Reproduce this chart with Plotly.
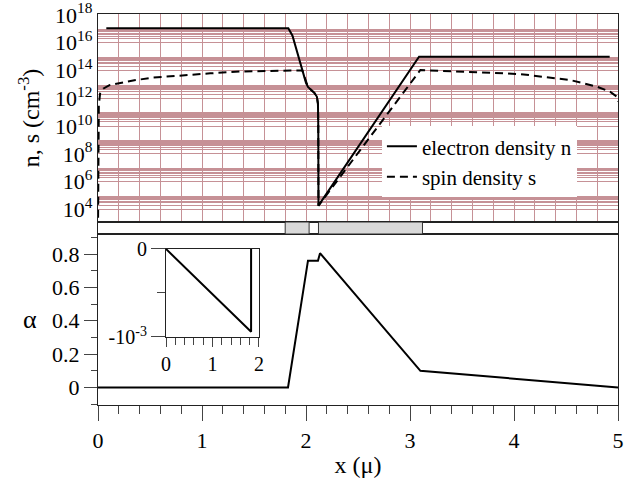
import plotly.graph_objects as go

# ---------------- data ----------------
# electron density n (cm^-3)
n_x = [0.08, 1.83, 1.87, 1.933, 1.97, 2.0, 2.019, 2.05, 2.08, 2.105, 2.115, 2.118, 2.12, 3.087, 4.92]
n_y = [1.1e17, 1.1e17, 3.2e16, 5.8e14, 6.3e13, 1.3e13, 6.6e12, 4.0e12, 2.5e12, 1.3e12, 4.0e11, 1.0e10, 1.9e4, 1.0e15, 1.0e15]

# spin density s (cm^-3)
s_x = [0.0, 0.003, 0.008, 0.02, 0.05, 0.11, 0.21, 0.35, 0.53, 0.8, 1.08, 1.37, 1.6, 1.85, 1.965,
       2.0, 2.019, 2.05, 2.08, 2.105, 2.115, 2.118, 2.12,
       3.1, 3.577, 4.058, 4.538, 4.798, 4.923, 4.99, 5.0]
s_y = [3e2, 1e9, 3.2e11, 2.2e12, 5.0e12, 8.9e12, 1.26e13, 2.0e13, 3.1e13, 4.6e13, 6.3e13, 8.5e13, 9.5e13, 1.0e14, 1.0e14,
       1.3e13, 6.6e12, 4.0e12, 2.5e12, 1.3e12, 4.0e11, 1.0e10, 1.9e4,
       1.1e14, 8.3e13, 5.6e13, 2.1e13, 6.9e12, 3.0e12, 1.3e12, 6.0e11]

# alpha (bottom panel)
a_x = [0.0, 1.827, 2.019, 2.115, 2.135, 3.10, 5.0]
a_y = [0.0, 0.0, 0.76, 0.76, 0.805, 0.10, 0.0]

# inset
i_x = [0.0, 1.83, 1.83]
i_y = [0.0, -0.00094, 0.0]

# shaded regions in the strip
region_start = [1.80, 2.12]
region_end = [2.03, 3.12]

# tick labels
top_tick_exps = [4, 6, 8, 10, 12, 14, 16, 18]

# ---------------- figure ----------------
FONT = "Liberation Serif, Times New Roman, Times, serif"
GRID = "rgb(198,145,150)"
fig = go.Figure()

fig.add_trace(go.Scatter(x=n_x, y=n_y, mode="lines", name="electron density n",
                         line=dict(color="black", width=2), xaxis="x2", yaxis="y2"))
fig.add_trace(go.Scatter(x=s_x, y=s_y, mode="lines", name="spin density s",
                         line=dict(color="black", width=2, dash="8px,5px"), xaxis="x2", yaxis="y2"))

for a, b in zip(region_start, region_end):
    fig.add_trace(go.Scatter(x=[a, b, b, a, a], y=[0, 0, 1, 1, 0], mode="lines", fill="toself",
                             fillcolor="#d9d9d9", line=dict(color="#333", width=1),
                             showlegend=False, xaxis="x3", yaxis="y3", hoverinfo="skip"))

fig.add_trace(go.Scatter(x=a_x, y=a_y, mode="lines", line=dict(color="black", width=2),
                         showlegend=False, xaxis="x", yaxis="y"))
fig.add_trace(go.Scatter(x=i_x, y=i_y, mode="lines", line=dict(color="black", width=2),
                         showlegend=False, xaxis="x4", yaxis="y4"))

minor_vals = [k * 10.0 ** e for e in range(4, 17, 2) for k in range(2, 10)]

axis_common = dict(showline=True, linecolor="#222", linewidth=1.2, mirror=True, automargin=False,
                   ticklabeloverflow="allow",
                   zeroline=False, tickfont=dict(family=FONT, size=22, color="black"))
inset_common = {**axis_common, "tickfont": dict(family=FONT, size=20, color="black")}

fig.update_layout(
    width=641, height=479,
    margin=dict(l=98, r=23, t=14, b=74),
    paper_bgcolor="white", plot_bgcolor="white",
    font=dict(family=FONT, color="black"),
    legend=dict(x=0.546, y=0.713, xanchor="left", yanchor="top", bgcolor="white",
                font=dict(family=FONT, size=21, color="black"), itemwidth=30,
                tracegroupgap=0),
    xaxis=dict(**axis_common, domain=[0, 1], range=[0, 5], anchor="y",
               tickvals=[0, 1, 2, 3, 4, 5], ticks="outside", ticklen=15, tickwidth=1.2,
               minor=dict(dtick=0.2, tick0=0, ticks="outside", ticklen=8, tickwidth=1.2, showgrid=False),
               showgrid=False,
               title=dict(text="x (μ)", font=dict(family=FONT, size=24), standoff=4)),
    yaxis=dict(**axis_common, domain=[0, 0.4373], range=[-0.105, 0.92], anchor="x",
               tickvals=[0, 0.2, 0.4, 0.6, 0.8], ticktext=["0", "0.2", "0.4", "0.6", "0.8"],
               ticks="outside", ticklen=13, tickwidth=1.2,
               minor=dict(dtick=0.2, tick0=0.1, ticks="outside", ticklen=6, tickwidth=1.2, showgrid=False),
               showgrid=False),
    xaxis2=dict(**axis_common, domain=[0, 1], range=[0, 5], anchor="y2", matches="x",
                showticklabels=False, ticks="", dtick=1,
                showgrid=True, gridcolor=GRID, gridwidth=1,
                minor=dict(dtick=0.2, tick0=0, showgrid=True, gridcolor=GRID, gridwidth=1)),
    yaxis2=dict(**axis_common, domain=[0.468, 1], type="log", range=[3.1, 18.07], anchor="x2",
                tickvals=[10.0 ** e for e in top_tick_exps],
                ticktext=["10<sup>%d</sup>" % e for e in top_tick_exps],
                ticks="", showgrid=True, gridcolor=GRID, gridwidth=1,
                minor=dict(tickvals=minor_vals, showgrid=True, gridcolor=GRID, gridwidth=1.2, ticks=""),
                title=dict(text="n, s (cm<sup>-3</sup>)", font=dict(family=FONT, size=24), standoff=8)),
    xaxis3=dict(showline=True, linecolor="#222", linewidth=1.2, mirror=True, domain=[0, 1], automargin=False,
                range=[0, 5], anchor="y3", matches="x", showticklabels=False, ticks="",
                showgrid=False, zeroline=False),
    yaxis3=dict(showline=True, linecolor="#222", linewidth=1.2, mirror=True, domain=[0.4373, 0.468],
                automargin=False, range=[0, 1], anchor="x3", showticklabels=False, ticks="",
                showgrid=False, zeroline=False),
    xaxis4=dict(**inset_common, domain=[0.1308, 0.3096], range=[0, 2], anchor="y4",
                tickvals=[0, 1, 2], ticks="outside", ticklen=9, tickwidth=1.2,
                minor=dict(dtick=0.2, tick0=0, ticks="outside", ticklen=7, tickwidth=1.2, showgrid=False),
                showgrid=False),
    yaxis4=dict(**inset_common, domain=[0.174, 0.399], range=[-0.001, 0], anchor="x4",
                tickvals=[-0.001, 0], ticktext=["-10<sup>-3</sup>", "0"],
                ticks="outside", ticklen=14, tickwidth=1.2,
                minor=dict(tickvals=[-0.0005], ticks="outside", ticklen=8, tickwidth=1.2, showgrid=False),
                showgrid=False),
    annotations=[dict(text="α", xref="paper", yref="paper", x=-0.131, y=0.2187,
                      xanchor="center", yanchor="middle", showarrow=False,
                      font=dict(family=FONT, size=26, color="black"))],
)

fig.write_html("out.html", config={"displayModeBar": False},
               post_script="document.body.style.margin='0px';")
